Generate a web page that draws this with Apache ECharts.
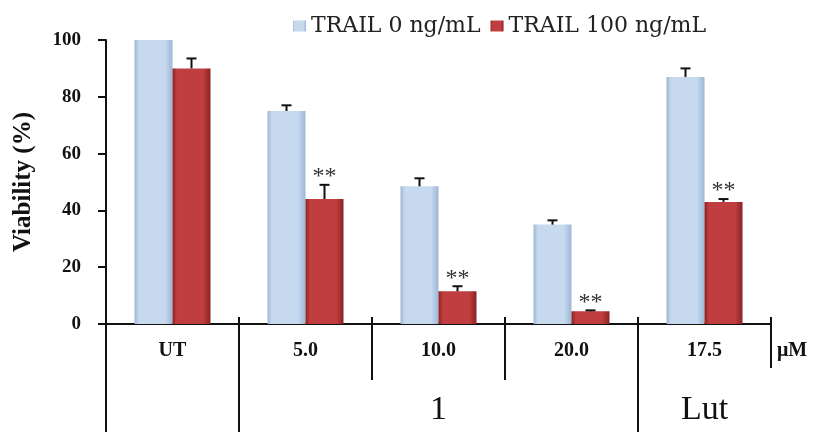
<!DOCTYPE html>
<html><head><meta charset="utf-8">
<script src="https://cdn.jsdelivr.net/npm/echarts@6/dist/echarts.min.js"></script>
<style>html,body{margin:0;padding:0;background:#fff}#c{width:819px;height:432px}</style>
</head><body><div id="c"></div>
<script>
const categories = ['UT', '5.0', '10.0', '20.0', '17.5'];
const seriesNames = ['TRAIL 0 ng/mL', 'TRAIL 100 ng/mL'];
const trail0 = [100, 75, 48.5, 35, 87];
const trail100 = [90, 44, 11.5, 4.5, 43];
const err0 = [0, 2, 2.8, 1.5, 3];
const err100 = [3.5, 5, 1.8, 0.3, 1];
const sig0 = ['', '', '', '', ''];
const sig100 = ['', '**', '**', '**', '**'];
const yTicks = [0, 20, 40, 60, 80, 100];
const groups = [{ text: '', from: 0, to: 0 }, { text: '1', from: 1, to: 3 }, { text: 'Lut', from: 4, to: 4 }];
const unitLabel = 'μM';

const BAR_W = 38;
const serif = '"Liberation Serif", "Times New Roman", serif';
const slab = '"DejaVu Serif", serif';

function grad(edge, mid) {
  return new echarts.graphic.LinearGradient(0, 0, 1, 0, [
    { offset: 0, color: edge }, { offset: 0.12, color: mid }, { offset: 0.8, color: mid }, { offset: 1, color: edge }
  ]);
}
const blueFill = grad('#9db6d6', '#c6d9ef');
const redFill = grad('#8a2224', '#c13e40');

function errData(vals, errs, side) {
  return vals.map((v, i) => [i, v, errs[i], side]);
}

const chart = echarts.init(document.getElementById('c'), null, { renderer: 'canvas' });

function renderErr(params, api) {
  const i = api.value(0), v = api.value(1), e = api.value(2), side = api.value(3);
  const base = api.coord([i, v]);
  const x = base[0] + side * BAR_W / 2;
  const children = [];
  if (e > 0) {
    const top = api.coord([i, v + e]);
    children.push({ type: 'line', shape: { x1: x, y1: base[1], x2: x, y2: top[1] }, style: { stroke: '#111', lineWidth: 2 } });
    children.push({ type: 'line', shape: { x1: x - 5, y1: top[1], x2: x + 5, y2: top[1] }, style: { stroke: '#111', lineWidth: 2 } });
  }
  return { type: 'group', children };
}

function sigSeries(vals, errs, sigs, side) {
  return {
    type: 'custom', silent: true, z: 5,
    data: vals.map((v, i) => [i, v + errs[i], side]),
    renderItem: function (params, api) {
      const i = api.value(0), top = api.value(1), s = api.value(2);
      const p = api.coord([i, top]);
      const txt = sigs[i];
      if (!txt) return { type: 'group', children: [] };
      return {
        type: 'text',
        style: { x: p[0] + s * BAR_W / 2, y: p[1] - 8, text: txt, fill: '#333', font: '24px ' + serif, align: 'center', verticalAlign: 'middle' }
      };
    }
  };
}

const option = {
  animation: false,
  grid: { left: 106, right: 48, top: 40, bottom: 108, containLabel: false, outerBoundsMode: 'none' },
  legend: {
    top: 10, left: 288, itemWidth: 13, itemHeight: 11, itemGap: 10, icon: 'rect',
    data: seriesNames,
    textStyle: { fontFamily: slab, fontSize: 22, color: '#222' }
  },
  xAxis: {
    type: 'category', data: categories,
    axisLine: { lineStyle: { color: '#111', width: 2 } },
    axisTick: { show: true, inside: true, length: 7, lineStyle: { color: '#111', width: 2 } },
    axisLabel: { margin: 17, fontFamily: serif, fontWeight: 'bold', fontSize: 20, color: '#111' }
  },
  yAxis: {
    type: 'value', min: 0, max: 100, interval: 20,
    name: 'Viability (%)', nameLocation: 'middle', nameGap: 70,
    nameTextStyle: { fontFamily: serif, fontWeight: 'bold', fontSize: 25, color: '#111' },
    axisLine: { show: true, lineStyle: { color: '#111', width: 2 } },
    axisTick: { show: true, length: 8, lineStyle: { color: '#111', width: 2 } },
    splitLine: { show: false },
    axisLabel: { margin: 25, fontFamily: serif, fontWeight: 'bold', fontSize: 19, color: '#111',
      formatter: v => yTicks.indexOf(v) >= 0 ? String(v) : '' }
  },
  series: [
    { name: seriesNames[0], type: 'bar', data: trail0, barWidth: BAR_W, barGap: '0%',
      itemStyle: { color: blueFill }, emphasis: { disabled: true } },
    { name: seriesNames[1], type: 'bar', data: trail100, barWidth: BAR_W, barGap: '0%',
      itemStyle: { color: redFill }, emphasis: { disabled: true } },
    { type: 'custom', silent: true, z: 4, data: errData(trail0, err0, -1), renderItem: renderErr },
    { type: 'custom', silent: true, z: 4, data: errData(trail100, err100, 1), renderItem: renderErr },
    sigSeries(trail100, err100, sig100, 1)
  ]
};
chart.setOption(option);

// category separators and group labels below the axis
(function () {
  const n = categories.length;
  const x0 = chart.convertToPixel({ xAxisIndex: 0 }, 0);
  const x1 = chart.convertToPixel({ xAxisIndex: 0 }, 1);
  const band = x1 - x0;
  const y0 = chart.convertToPixel({ yAxisIndex: 0 }, 0);
  const H = 432;
  const groupEdges = new Set();
  groups.forEach(g => { groupEdges.add(g.from); });
  const els = [];
  for (let k = 0; k <= n; k++) {
    const x = x0 - band / 2 + k * band;
    let y2;
    if (k === n) y2 = y0 + 44;
    else if (groupEdges.has(k)) y2 = H;
    else y2 = y0 + 56;
    const y1 = k === 0 ? y0 : y0 - 7;
    els.push({ type: 'line', shape: { x1: x, y1: y1, x2: x, y2: y2 }, style: { stroke: '#111', lineWidth: 2 } });
  }
  groups.forEach(g => {
    if (!g.text) return;
    const cx = x0 + (g.from + g.to) / 2 * band;
    els.push({ type: 'text', style: { x: cx, y: y0 + 86, text: g.text, font: '34px ' + serif, fill: '#111', align: 'center', verticalAlign: 'middle' } });
  });
  const xEnd = x0 - band / 2 + n * band;
  els.push({ type: 'text', style: { x: xEnd + 6, y: y0 + 27, text: unitLabel, font: 'bold 20px ' + serif, fill: '#111', align: 'left', verticalAlign: 'middle' } });
  chart.setOption({ graphic: { elements: els } });
})();
</script>
</body></html>
